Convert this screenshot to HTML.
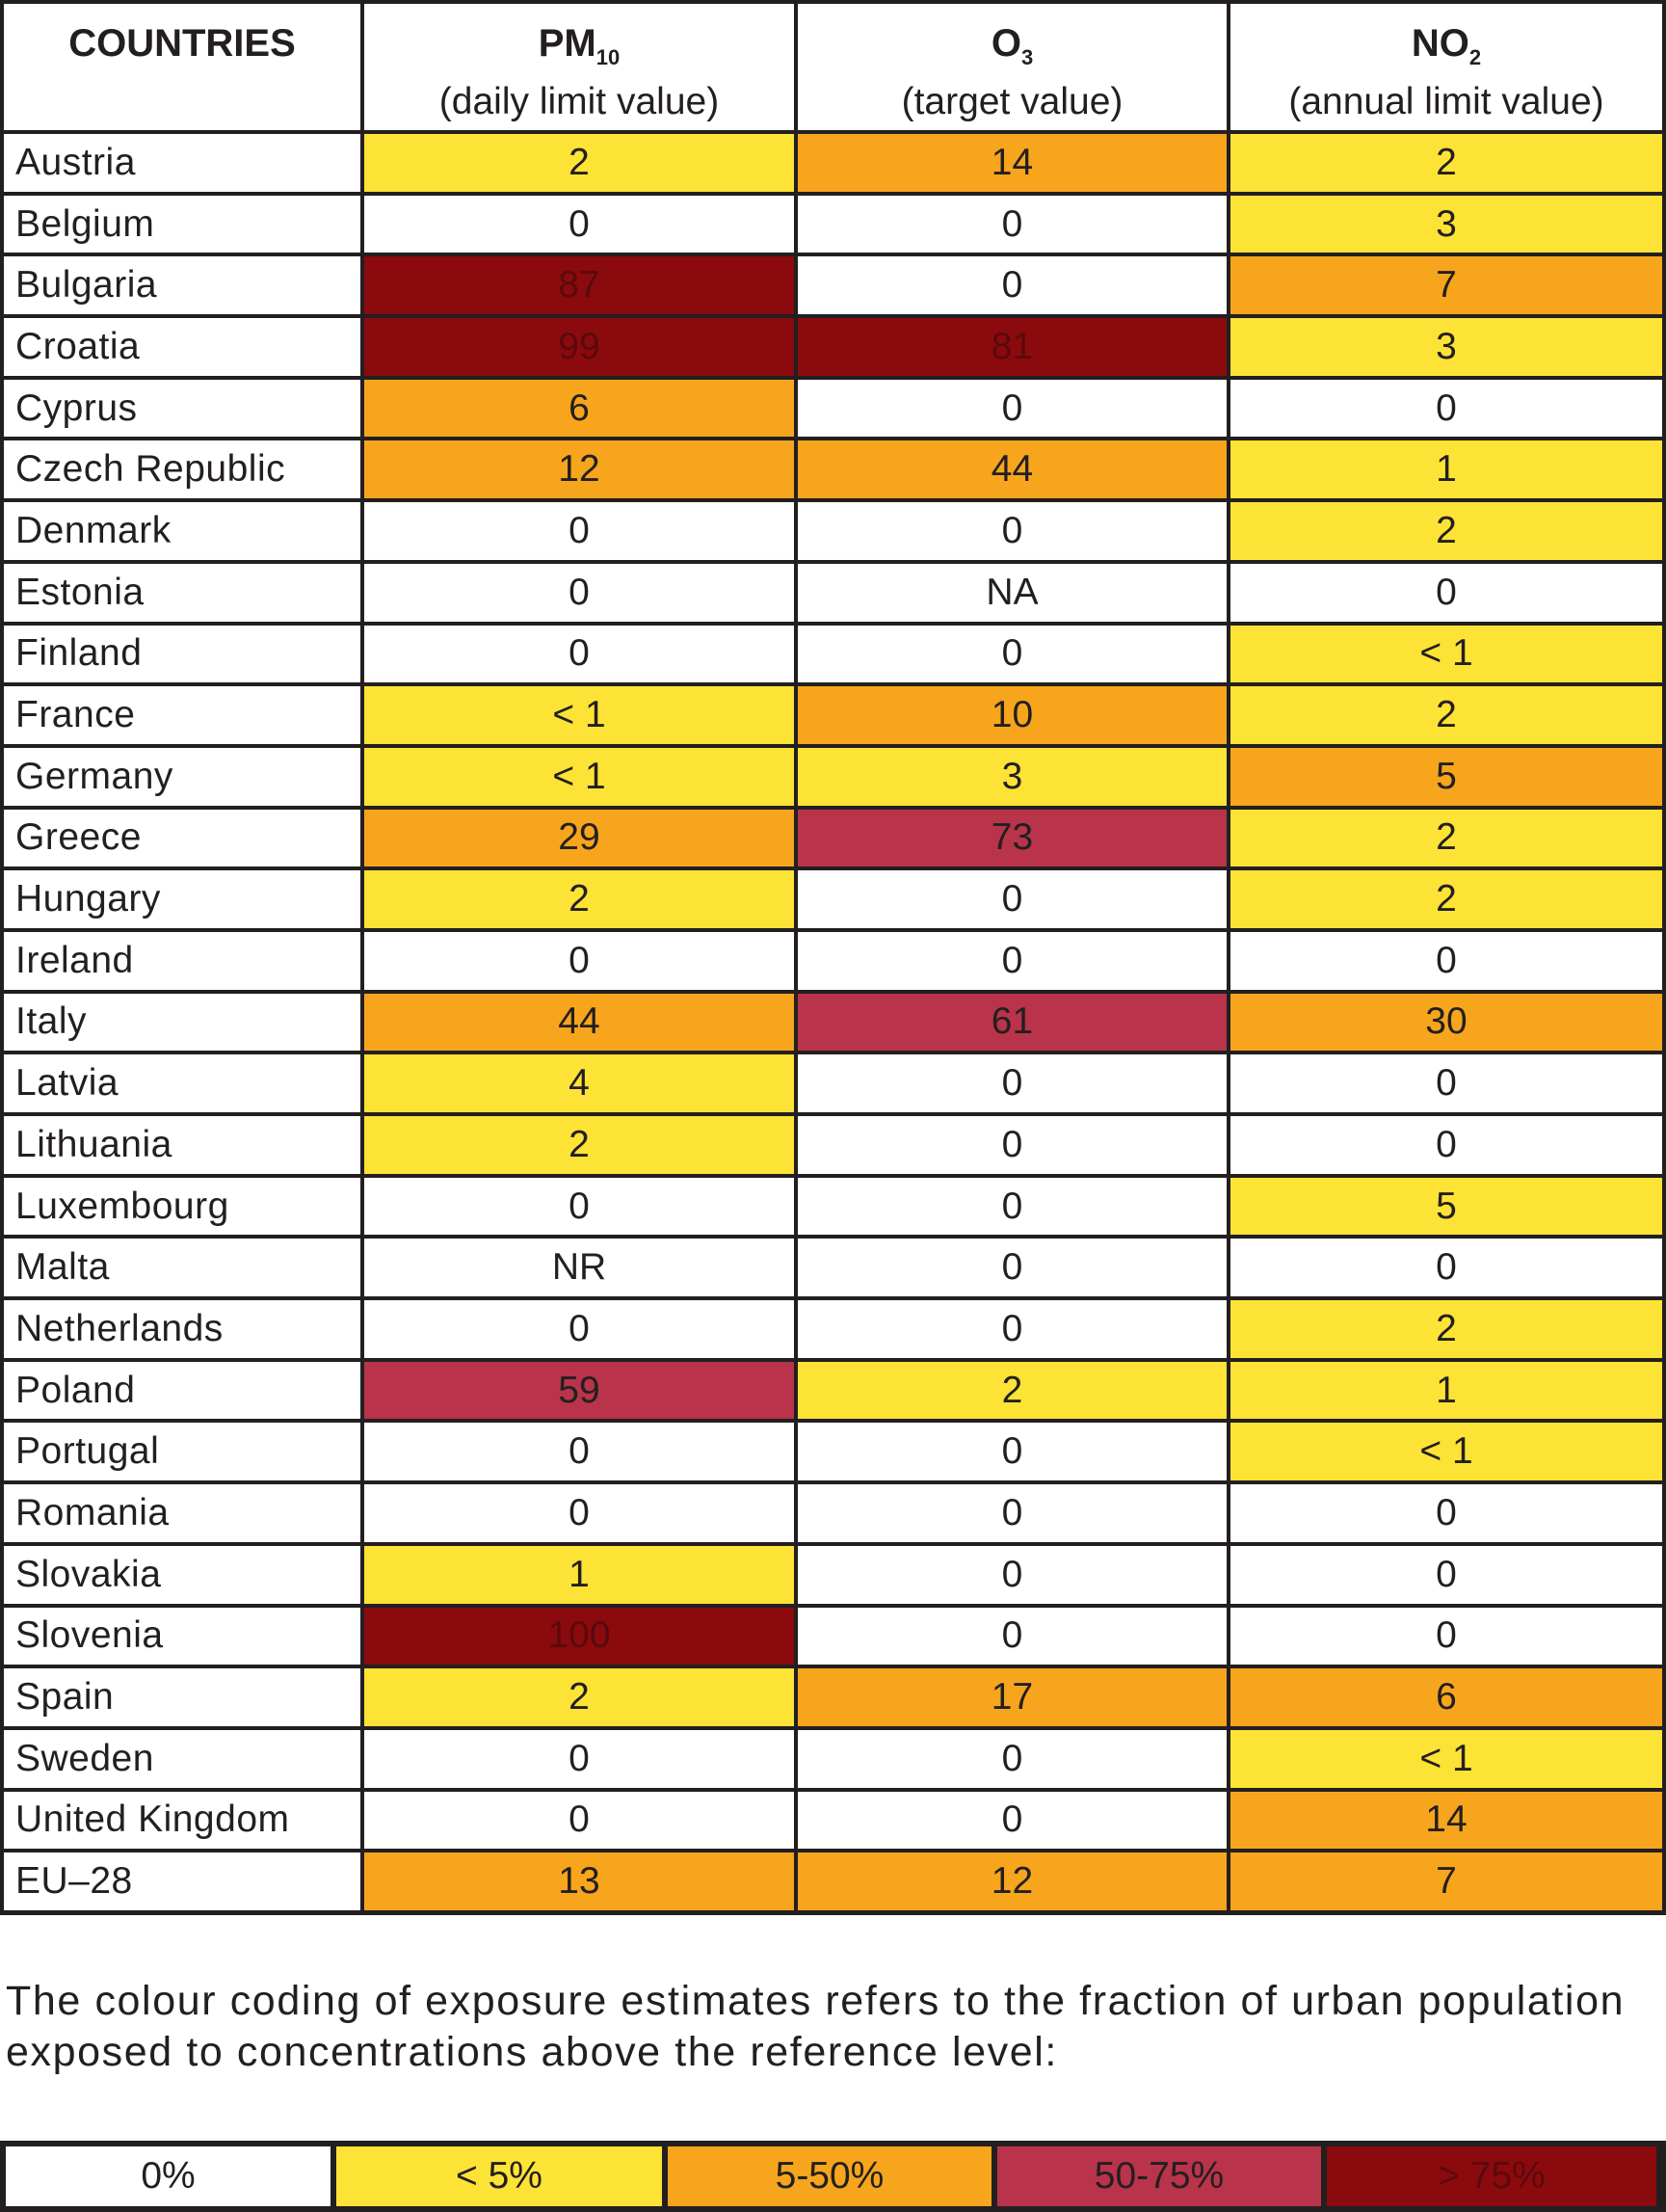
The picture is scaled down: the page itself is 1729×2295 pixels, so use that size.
<!DOCTYPE html>
<html><head><meta charset="utf-8"><style>
body{margin:0;width:1729px;height:2295px;background:#fff;position:relative;overflow:hidden;font-family:"Liberation Sans",sans-serif;color:#231f20}
.g{position:absolute;left:0;top:0;width:1729px;height:1987px;box-sizing:border-box;padding:4px;background:#231f20;display:grid;grid-template-columns:370px 446px 445px 448px;grid-template-rows:131px repeat(29,59.7px);gap:4px}
.g div{background:#fff;display:flex;align-items:center;justify-content:center;font-size:39px}
.g div.c{justify-content:flex-start;padding-left:12px;letter-spacing:0.5px}
.g div.h{flex-direction:column;justify-content:flex-start;padding-top:18px;font-size:39px;line-height:46px}
.h b{font-size:40px}
.y{background:#fde335!important}.o{background:#f6a51d!important}.p{background:#b9344a!important}.r{background:#8b0a0e!important;color:#5a0a0c}
.t{position:absolute;left:6px;top:2050px;font-size:43px;letter-spacing:1.6px;line-height:53px;width:1720px}
.l{position:absolute;left:0;top:2221px;width:1729px;height:74px;box-sizing:border-box;padding:6px;background:#231f20;display:grid;grid-template-columns:337px 338px 336px 336px 342px;gap:6px}
.l div{display:flex;align-items:center;justify-content:center;font-size:39px;background:#fff}
</style></head><body>
<div class="g">
<div class="h"><b>COUNTRIES</b></div>
<div class="h"><b>PM<sub style="font-size:22px">10</sub></b><span>(daily limit value)</span></div>
<div class="h"><b>O<sub style="font-size:22px">3</sub></b><span>(target value)</span></div>
<div class="h"><b>NO<sub style="font-size:22px">2</sub></b><span>(annual limit value)</span></div>
<div class="c">Austria</div><div class="y">2</div><div class="o">14</div><div class="y">2</div>
<div class="c">Belgium</div><div>0</div><div>0</div><div class="y">3</div>
<div class="c">Bulgaria</div><div class="r">87</div><div>0</div><div class="o">7</div>
<div class="c">Croatia</div><div class="r">99</div><div class="r">81</div><div class="y">3</div>
<div class="c">Cyprus</div><div class="o">6</div><div>0</div><div>0</div>
<div class="c">Czech Republic</div><div class="o">12</div><div class="o">44</div><div class="y">1</div>
<div class="c">Denmark</div><div>0</div><div>0</div><div class="y">2</div>
<div class="c">Estonia</div><div>0</div><div>NA</div><div>0</div>
<div class="c">Finland</div><div>0</div><div>0</div><div class="y">&lt; 1</div>
<div class="c">France</div><div class="y">&lt; 1</div><div class="o">10</div><div class="y">2</div>
<div class="c">Germany</div><div class="y">&lt; 1</div><div class="y">3</div><div class="o">5</div>
<div class="c">Greece</div><div class="o">29</div><div class="p">73</div><div class="y">2</div>
<div class="c">Hungary</div><div class="y">2</div><div>0</div><div class="y">2</div>
<div class="c">Ireland</div><div>0</div><div>0</div><div>0</div>
<div class="c">Italy</div><div class="o">44</div><div class="p">61</div><div class="o">30</div>
<div class="c">Latvia</div><div class="y">4</div><div>0</div><div>0</div>
<div class="c">Lithuania</div><div class="y">2</div><div>0</div><div>0</div>
<div class="c">Luxembourg</div><div>0</div><div>0</div><div class="y">5</div>
<div class="c">Malta</div><div>NR</div><div>0</div><div>0</div>
<div class="c">Netherlands</div><div>0</div><div>0</div><div class="y">2</div>
<div class="c">Poland</div><div class="p">59</div><div class="y">2</div><div class="y">1</div>
<div class="c">Portugal</div><div>0</div><div>0</div><div class="y">&lt; 1</div>
<div class="c">Romania</div><div>0</div><div>0</div><div>0</div>
<div class="c">Slovakia</div><div class="y">1</div><div>0</div><div>0</div>
<div class="c">Slovenia</div><div class="r">100</div><div>0</div><div>0</div>
<div class="c">Spain</div><div class="y">2</div><div class="o">17</div><div class="o">6</div>
<div class="c">Sweden</div><div>0</div><div>0</div><div class="y">&lt; 1</div>
<div class="c">United Kingdom</div><div>0</div><div>0</div><div class="o">14</div>
<div class="c">EU–28</div><div class="o">13</div><div class="o">12</div><div class="o">7</div>
</div>
<div class="t">The colour coding of exposure estimates refers to the fraction of urban population<br>exposed to concentrations above the reference level:</div>
<div class="l"><div>0%</div><div class="y">&lt; 5%</div><div class="o">5-50%</div><div class="p">50-75%</div><div class="r">&gt; 75%</div></div>
</body></html>
